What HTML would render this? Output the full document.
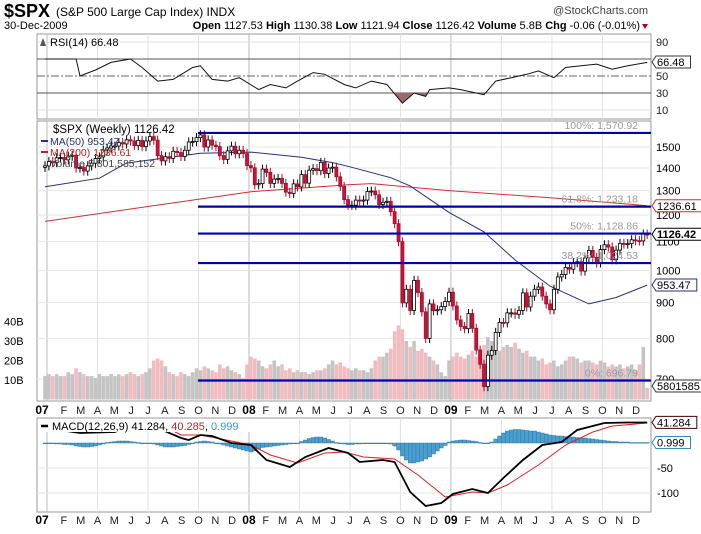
<!DOCTYPE html>
<html><head><meta charset="utf-8"><style>
body{margin:0;background:#fff;width:701px;height:529px;overflow:hidden;font-family:"Liberation Sans",sans-serif}
svg text{font-family:"Liberation Sans",sans-serif}
</style></head><body>
<svg id="c" width="701" height="529" xmlns="http://www.w3.org/2000/svg">
<text x="4" y="17" font-size="18" font-weight="bold" textLength="46" lengthAdjust="spacingAndGlyphs">$SPX</text>
<text x="56" y="16" font-size="12">(S&amp;P 500 Large Cap Index) INDX</text>
<text x="648" y="14" font-size="11" fill="#444" text-anchor="end">@StockCharts.com</text>
<text x="4" y="29" font-size="11">30-Dec-2009</text>
<text x="640" y="29" font-size="11" text-anchor="end"><tspan font-weight="bold">Open</tspan> 1127.53 <tspan font-weight="bold">High</tspan> 1130.38 <tspan font-weight="bold">Low</tspan> 1121.94 <tspan font-weight="bold">Close</tspan> 1126.42 <tspan font-weight="bold">Volume</tspan> 5.8B <tspan font-weight="bold">Chg</tspan> -0.06 (-0.01%)</text>
<path d="M642,24 L648,24 L645,29 Z" fill="#b00020"/>
<g id="g"></g>
</svg>
<script>
const closes=[1410,1430,1425,1448,1449,1438,1456,1460,1400,1402,1386,1410,1422,1444,1452,1485,1495,1505,1505,1522,1515,1536,1530,1507,1533,1502,1530,1552,1534,1458,1433,1453,1445,1479,1473,1454,1484,1525,1527,1547,1561,1500,1535,1509,1502,1458,1440,1481,1504,1467,1484,1468,
1411,1401,1325,1330,1395,1380,1331,1350,1353,1331,1293,1288,1329,1316,1370,1332,1390,1397,1388,1426,1375,1400,1404,1360,1318,1262,1239,1239,1260,1257,1260,1296,1298,1282,1242,1251,1255,1213,1166,1099,899,940,877,968,930,873,800,896,876,879,888,903,
931,890,850,832,826,868,827,770,735,683,757,769,816,843,842,870,870,866,877,929,887,919,940,947,919,896,879,940,979,987,1010,1004,1026,1029,998,1042,1068,1044,1025,1071,1088,1080,1036,1069,1093,1091,1092,1106,1103,1102,1127,1126];
const volumes=[12,13,12,13,12,12,14,13,16,14,13,12,12,11,13,12,12,13,12,13,12,13,14,13,12,13,14,16,20,21,20,17,14,13,12,14,13,12,14,16,15,17,16,15,14,18,16,17,15,14,13,11,
18,22,21,20,17,16,18,20,17,18,15,16,14,15,14,14,13,14,15,15,16,18,20,18,19,17,16,15,16,15,15,14,16,20,22,22,24,26,35,38,36,30,27,30,25,26,24,22,20,18,14,12,
20,22,24,22,21,23,25,22,26,28,32,30,26,25,27,28,27,29,26,24,25,22,22,20,21,18,19,20,17,18,20,22,22,21,19,20,20,19,18,20,19,17,18,17,18,16,17,18,15,18,27,6];
const ma50Weeks=[0,14,21,40,53,66,74,78,89,94,104,113,121,130,140,147,155];
const ma50Values=[1316,1354,1423,1470,1475,1450,1425,1408,1356,1320,1210,1135,1035,950,896,915,953];
const ma200Weeks=[0,31,53,78,84,104,130,155];
const ma200Values=[1175,1244,1295,1325,1330,1300,1270,1237];
const rsiWeeks=[0,8,9,13,17,22,25,29,33,38,40,43,47,50,55,58,62,65,69,72,77,80,84,88,92,95,98,99,104,107,113,116,120,124,127,131,134,138,142,146,150,155];
const rsiValues=[70,70,50,57,66,70,60,44,46,60,62,46,44,48,34,40,36,44,54,52,40,36,44,40,18,30,26,34,36,34,28,44,48,52,56,48,60,62,64,58,62,66];
const macdWeeks=[0,9,18,25,29,35,37,40,43,48,53,57,63,67,73,78,81,87,90,94,98,102,105,110,114,118,123,128,133,137,144,150,155];
const macdValues=[30,20,22,46,30,10,6,16,14,0,-4,-34,-48,-28,-10,-20,-38,-34,-38,-98,-126,-120,-102,-92,-100,-70,-34,-4,2,26,40,41,41];
const sigWeeks=[0,9,18,25,30,35,40,48,53,58,65,72,77,82,90,96,103,110,114,119,127,134,141,146,155];
const sigValues=[28,22,24,40,36,16,16,4,-4,-24,-40,-20,-18,-28,-32,-64,-108,-98,-100,-84,-44,-4,22,34,40];
const histValues=[0,-1,-1,-2,-2,-3,-3,-4,-6,-7,-8,-8,-7,-6,-4,-2,1,2,3,4,4,4,3,2,1,0,-1,-1,-2,-4,-6,-8,-8,-8,-7,-6,-5,-3,-1,2,3,4,3,2,0,-2,-4,-6,-8,-10,-12,-14,-16,-18,-16,-12,-9,-8,-7,-6,-5,-4,-3,-2,-1,0,3,6,9,11,12,12,10,7,4,1,-1,-2,-3,-3,-2,-2,-1,-1,0,0,0,0,0,-2,-6,-14,-26,-34,-40,-40,-38,-36,-32,-28,-22,-16,-10,-5,2,4,5,6,6,5,4,3,1,0,-1,2,8,14,20,24,26,27,27,26,25,24,24,22,20,18,16,15,14,14,13,12,12,11,10,10,9,8,7,6,5,4,3,3,2,2,2,1,1,1,1,1];
const priceTicks=[1500,1400,1300,1200,1100,1000,900,800,700];
const rsiTicks=[90,70,50,30,10];
const macdTicks=[-50,-100];
const volTicks=[10,20,30,40];
const fibLevels=[1570.92,1233.18,1128.86,1024.53,696.79];
const fibLabels=["100%: 1,570.92","61.8%: 1,233.18","50%: 1,128.86","38.2%: 1,024.53","0%: 696.79"];
const months=["07","F","M","A","M","J","J","A","S","O","N","D","08","F","M","A","M","J","J","A","S","O","N","D","09","F","M","A","M","J","J","A","S","O","N","D"];

const NS="http://www.w3.org/2000/svg",G=document.getElementById('g');
function el(t,a,p){const e=document.createElementNS(NS,t);for(const k in a)e.setAttribute(k,a[k]);(p||G).appendChild(e);return e;}
const L=37,R=651;
const xw=w=>45+w*3.885;
const xm=m=>47+m*16.83;
const py=p=>147+(Math.log(1500)-Math.log(p))*304.5;
const ry=v=>76-(v-50)*0.85;
const my=v=>443-v*0.5;
const vy=v=>399.5-v*1.95;
function line(ws,vs,f){return ws.map((w,i)=>(i?'L':'M')+xw(w).toFixed(1)+','+f(vs[i]).toFixed(1)).join(' ');}

const panels=[["rsi-panel",34,119],["price-panel",121,401],["macd-panel",418,512]];
panels.forEach(p=>{const r=el('rect',{x:L,y:p[1],width:R-L,height:p[2]-p[1],fill:'#fff',stroke:'#999'});
});
months.forEach((m,i)=>{if(i%3!==0)return;const x=xm(i);
[[34,119],[121,401],[418,512]].forEach(s=>{const g=el('line',{x1:x,x2:x,y1:s[0],y2:s[1],stroke:i%12===0?'#bbb':'#e2e2e2'});
});});
rsiTicks.forEach(v=>{const y=ry(v);
const g=el('line',{x1:L,x2:R,y1:y,y2:y,stroke:(v==70||v==30)?'#555':(v==50?'#666':'#e2e2e2'),'stroke-dasharray':v==50?'8,2,2,2':'none'});

const t=el('text',{x:656,y:y+4,'font-size':11,fill:'#222'});t.textContent=v;
});
el('clipPath',{id:'cl'});document.getElementById('cl').appendChild(document.createElementNS(NS,'rect'));
const cr=document.querySelector('#cl rect');cr.setAttribute('x',L);cr.setAttribute('y',ry(30));cr.setAttribute('width',R-L);cr.setAttribute('height',40);
const rf=el('path',{d:line(rsiWeeks,rsiValues,ry)+' L'+xw(rsiWeeks[rsiWeeks.length-1])+','+ry(30)+' L'+xw(0)+','+ry(30)+'Z',fill:'#9b6a6a','clip-path':'url(#cl)'});

const rl=el('path',{d:line(rsiWeeks,rsiValues,ry),fill:'none',stroke:'#111','stroke-width':1});

let t=el('text',{x:50,y:46,'font-size':11,'font-family':'Liberation Mono'});t.textContent='RSI(14) 66.48';

el('path',{d:'M40,46 L43,38 L46,46Z',fill:'#555'});
priceTicks.forEach(p=>{const y=py(p);const g=el('line',{x1:L,x2:R,y1:y,y2:y,stroke:'#e6e6e6'});

const tt=el('text',{x:656,y:y+4,'font-size':11});tt.textContent=p;
});
volTicks.forEach(v=>{const tt=el('text',{x:4,y:vy(v)+4,'font-size':11});tt.textContent=v+'B';
});
volumes.forEach((v,i)=>{const up=i==0||closes[i]>=closes[i-1];
const b=el('rect',{x:xw(i)-1.8,y:vy(v),width:3.6,height:399.5-vy(v),fill:up?'#c4c4c4':'#f0bcc0'});
});
let m=el('path',{d:line(ma200Weeks,ma200Values,py),fill:'none',stroke:'#d23030','stroke-width':1});

m=el('path',{d:line(ma50Weeks,ma50Values,py),fill:'none',stroke:'#2a2f7a','stroke-width':1});

closes.forEach((c,i)=>{const o=i?closes[i-1]:c*0.995;const hi=Math.max(o,c)*1.015,lo=Math.min(o,c)*0.985;const x=xw(i);const up=c>=o;
const w=el('line',{x1:x,x2:x,y1:py(hi),y2:py(lo),stroke:up?'#000':'#a0102a'});

const top=py(Math.max(o,c)),h=Math.max(1,py(Math.min(o,c))-top);
const b=el('rect',{x:x-1.5,y:top,width:3,height:h,fill:up?'#fff':'#d0103a',stroke:up?'#000':'#a0102a','stroke-width':0.8});
});
fibLevels.forEach((f,i)=>{const y=py(f);const g=el('line',{x1:198,x2:R,y1:y,y2:y,stroke:'#0000aa','stroke-width':2.2});

const tt=el('text',{x:638,y:y-4,'font-size':10.5,fill:'#999','text-anchor':'end'});tt.textContent=fibLabels[i];
});
[['$SPX (Weekly) 1126.42','#000',133,11.5],['MA(50) 953.47','#2a2f7a',145,10.5],['MA(200) 1236.61','#c02020',156,10.5],['Volume 5,801,585,152','#444',167,10.5]].forEach((a,i)=>{
const tt=el('text',{x:i?50:53,y:a[2],'font-size':a[3],fill:a[1],'font-family':i?'Liberation Sans':'Liberation Mono'});tt.textContent=a[0];

if(i==1||i==2)el('line',{x1:41,x2:48,y1:a[2]-4,y2:a[2]-4,stroke:a[1],'stroke-width':2});});
function box(y,txt,col,bold,name){const b=el('path',{d:`M652,${y} l4,-6 h${txt.length*6.3+3} v12 h-${txt.length*6.3+3}z`,fill:'#fff',stroke:col});

const tt=el('text',{x:657,y:y+4,'font-size':11,'font-weight':bold?'bold':'normal'});tt.textContent=txt;
}
box(ry(66.48),'66.48','#333',0,'rsi-value-box');
box(py(1236.61),'1236.61','#d03030',0,'ma200-value-box');
box(py(1126.42),'1126.42','#000',1,'close-value-box');
box(py(953.47),'953.47','#2a2f7a',0,'ma50-value-box');
box(386,'5801585','#333',0,'volume-value-box');
box(my(41.284),'41.284','#400',0,'macd-value-box');
box(my(0.999),'0.999','#3a8ac0',0,'hist-value-box');
macdTicks.forEach(v=>{const y=my(v);const g=el('line',{x1:L,x2:R,y1:y,y2:y,stroke:'#e6e6e6'});

const tt=el('text',{x:657,y:y+4,'font-size':11});tt.textContent=v;
});
el('clipPath',{id:'cm'});const cm=document.createElementNS(NS,'rect');document.getElementById('cm').appendChild(cm);
cm.setAttribute('x',L);cm.setAttribute('y',418);cm.setAttribute('width',R-L);cm.setAttribute('height',94);
const mg=el('g',{'clip-path':'url(#cm)'});
histValues.forEach((v,i)=>{const y0=my(0),y1=my(v);
const b=el('rect',{x:xw(i)-2,y:Math.min(y0,y1),width:4,height:Math.max(0.8,Math.abs(y1-y0)),fill:'#4a9ed0',stroke:'#2a6f9a','stroke-width':0.4},mg);
});
m=el('path',{d:line(sigWeeks,sigValues,my),fill:'none',stroke:'#e02020','stroke-width':1},mg);

m=el('path',{d:line(macdWeeks,macdValues,my),fill:'none',stroke:'#000','stroke-width':1.8},mg);

el('rect',{x:38,y:419,width:230,height:13,fill:'#fff'});
el('line',{x1:41,x2:48,y1:426,y2:426,stroke:'#000','stroke-width':2.5});
t=el('text',{x:52,y:430,'font-size':11});t.innerHTML='MACD(12,26,9) 41.284, <tspan fill="#d02020">40.285</tspan>, <tspan fill="#3a9ad0">0.999</tspan>';

[414,524].forEach(y=>{months.forEach((mm,i)=>{const yr=i%12===0;
const tt=el('text',{x:i==0?42:xm(i),y:y,'font-size':yr?12:11,'font-weight':yr?'bold':'normal','text-anchor':'middle',fill:yr?'#000':'#222'});tt.textContent=mm;
});});
</script>
</body></html>
